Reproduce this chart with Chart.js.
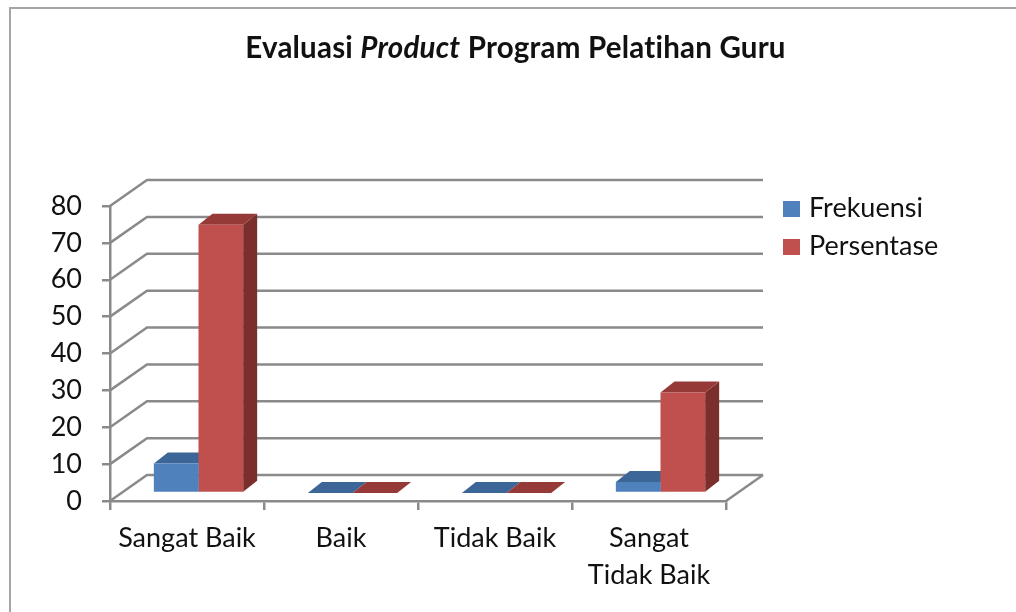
<!DOCTYPE html>
<html>
<head>
<meta charset="utf-8">
<script src="https://cdn.jsdelivr.net/npm/chart.js@4/dist/chart.umd.min.js"></script>
<style>
  html, body { margin: 0; padding: 0; background: #fff; }
  #wrap { position: relative; width: 1016px; height: 612px; overflow: hidden; }
  #frame { position: absolute; left: 9px; top: 7px; width: 1020px; height: 620px;
           border-left: 2px solid #a6a6a6; border-top: 2px solid #a6a6a6; box-sizing: border-box; }
  canvas { position: absolute; left: 0; top: 0; }
</style>
</head>
<body>
<div id="wrap">
  <div id="frame"></div>
  <canvas id="myChart" width="1016" height="612"></canvas>
</div>
<script>
// data
const kategori = ['Sangat Baik', 'Baik', 'Tidak Baik', ['Sangat', 'Tidak Baik']];
const frekuensi = [8, 0, 0, 3];
const persentase = [72.73, 0, 0, 27.27];
const yTicks = [0, 10, 20, 30, 40, 50, 60, 70, 80];

const FONT = 'Lato, "Open Sans", sans-serif';
const GRID = '#8a8a8a';
const DEPTH = { x: 37, y: -26 };     // back wall offset
const SHIFT = { x: 11.5, y: -8 };    // bars sit a bit into the floor
const BAR3D = { x: 14, y: -11 };     // bar thickness

const shade = {
  '#4F81BD': { top: '#3D6698', side: '#385D8A' },
  '#C0504D': { top: '#963A38', side: '#7B2F2D' }
};

// back wall + floor
const wall = {
  id: 'wall',
  beforeDatasetsDraw(chart) {
    const { ctx, chartArea: a, scales: { y } } = chart;
    ctx.save();
    ctx.strokeStyle = GRID;
    ctx.lineWidth = 2.5;
    yTicks.forEach(v => {
      const py = y.getPixelForValue(v);
      ctx.beginPath();
      ctx.moveTo(a.left, py);
      ctx.lineTo(a.left + DEPTH.x, py + DEPTH.y);
      ctx.lineTo(a.right + DEPTH.x, py + DEPTH.y);
      ctx.stroke();
    });
    ctx.beginPath();
    ctx.moveTo(a.right, a.bottom);
    ctx.lineTo(a.right + DEPTH.x, a.bottom + DEPTH.y);
    ctx.stroke();
    ctx.restore();

    // top and side faces, then fronts are drawn by chart.js over them
    ctx.save();
    ctx.translate(SHIFT.x, SHIFT.y);
    chart.data.datasets.forEach((ds, i) => {
      const meta = chart.getDatasetMeta(i);
      meta.data.forEach(bar => {
        const l = bar.x - bar.width / 2, r = bar.x + bar.width / 2;
        const t = bar.y, b = bar.base;
        const c = shade[ds.backgroundColor];
        ctx.fillStyle = c.side;
        ctx.beginPath();
        ctx.moveTo(r, b); ctx.lineTo(r + BAR3D.x, b + BAR3D.y);
        ctx.lineTo(r + BAR3D.x, t + BAR3D.y); ctx.lineTo(r, t); ctx.closePath();
        ctx.fill();
        ctx.fillStyle = c.top;
        ctx.beginPath();
        ctx.moveTo(l, t); ctx.lineTo(l + BAR3D.x, t + BAR3D.y);
        ctx.lineTo(r + BAR3D.x, t + BAR3D.y); ctx.lineTo(r, t); ctx.closePath();
        ctx.fill();
      });
    });
  },
  afterDatasetsDraw(chart) {
    chart.ctx.restore();
  }
};

// title with italic word; tiny letter spacing keeps "ti" from ligating
const judul = {
  id: 'judul',
  afterDraw(chart) {
    const ctx = chart.ctx;
    ctx.save();
    ctx.letterSpacing = '0.2px';
    const parts = [['Evaluasi ', 'bold'], ['Product', 'italic bold'], [' Program Pelatihan Guru', 'bold']];
    let size = 100, w = 0;
    parts.forEach(p => { ctx.font = p[1] + ' ' + size + 'px ' + FONT; w += ctx.measureText(p[0]).width; });
    size = size * 535 / w;
    w = 0;
    parts.forEach(p => { ctx.font = p[1] + ' ' + size + 'px ' + FONT; w += ctx.measureText(p[0]).width; });
    let x = 515.5 - w / 2;
    ctx.fillStyle = '#111';
    ctx.textBaseline = 'alphabetic';
    parts.forEach(p => {
      ctx.font = p[1] + ' ' + size + 'px ' + FONT;
      ctx.fillText(p[0], x, 58);
      x += ctx.measureText(p[0]).width;
    });
    ctx.restore();
  }
};

// legend on the right
const legenda = {
  id: 'legenda',
  afterDraw(chart) {
    const ctx = chart.ctx;
    ctx.save();
    ctx.font = '27px ' + FONT;
    ctx.textBaseline = 'alphabetic';
    chart.data.datasets.forEach((ds, i) => {
      const y0 = 201 + i * 38;
      ctx.fillStyle = ds.backgroundColor;
      ctx.fillRect(783, y0, 17, 16);
      ctx.fillStyle = '#111';
      ctx.fillText(ds.label, 809, y0 + 16);
    });
    ctx.restore();
  }
};

new Chart(document.getElementById('myChart'), {
  type: 'bar',
  data: {
    labels: kategori,
    datasets: [
      { label: 'Frekuensi', data: frekuensi, backgroundColor: '#4F81BD' },
      { label: 'Persentase', data: persentase, backgroundColor: '#C0504D' }
    ]
  },
  options: {
    responsive: false,
    animation: false,
    layout: { padding: { left: 30, top: 206, right: 290, bottom: 0 } },
    datasets: { bar: { categoryPercentage: 0.58, barPercentage: 1 } },
    plugins: { legend: { display: false }, tooltip: { enabled: false } },
    scales: {
      x: {
        afterFit(s) { s.height = 111; },
        grid: { drawOnChartArea: false, color: GRID, lineWidth: 2.5, tickLength: 9 },
        border: { color: GRID, width: 2.5 },
        ticks: { color: '#111', font: { family: FONT, size: 27, lineHeight: 1.37 }, padding: 10, maxRotation: 0 }
      },
      y: {
        min: 0, max: 80,
        afterFit(s) { s.width = 80; },
        afterBuildTicks(s) { s.ticks = yTicks.map(v => ({ value: v })); },
        grid: { drawOnChartArea: false, color: GRID, lineWidth: 2.5, tickLength: 8 },
        border: { color: GRID, width: 2.5 },
        ticks: { color: '#111', font: { family: FONT, size: 27 }, padding: 20 }
      }
    }
  },
  plugins: [wall, judul, legenda]
});
</script>
</body>
</html>
